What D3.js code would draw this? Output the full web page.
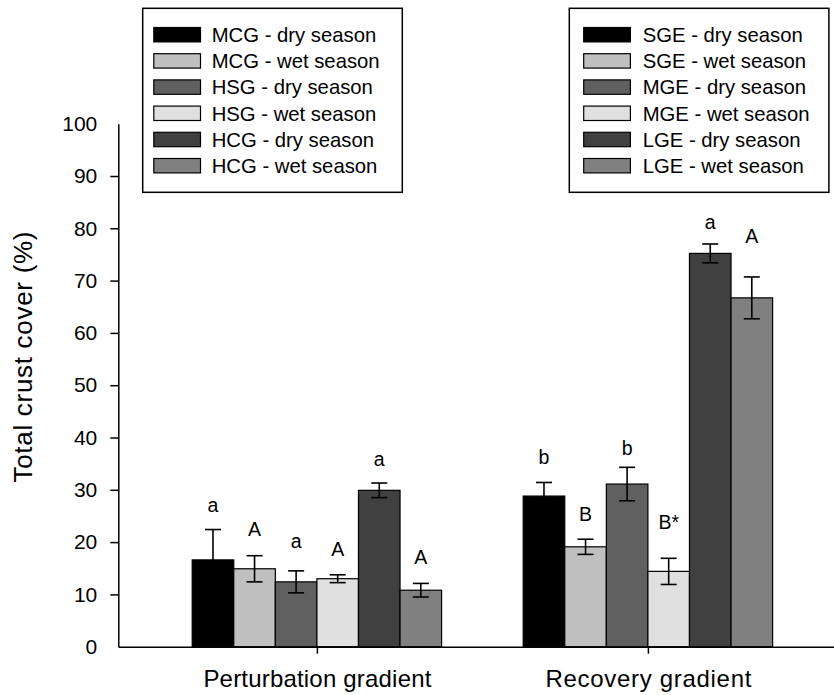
<!DOCTYPE html>
<html>
<head>
<meta charset="utf-8">
<script src="https://cdn.jsdelivr.net/npm/d3@7"></script>
<style>
  body { margin: 0; background: #fff; }
  svg { display: block; font-family: "Liberation Sans", Arial, sans-serif; }
</style>
</head>
<body>
<svg id="chart" width="834" height="695"></svg>
<script>
// data
const gradients = ["Perturbation gradient", "Recovery gradient"];
const perturbationSeries = ["MCG - dry season", "MCG - wet season", "HSG - dry season", "HSG - wet season", "HCG - dry season", "HCG - wet season"];
const recoverySeries = ["SGE - dry season", "SGE - wet season", "MGE - dry season", "MGE - wet season", "LGE - dry season", "LGE - wet season"];
const perturbationMeans = [16.6, 14.9, 12.4, 13.0, 29.9, 10.8];
const perturbationErrors = [5.8, 2.5, 2.1, 0.75, 1.4, 1.3];
const recoveryMeans = [28.8, 19.1, 31.1, 14.4, 75.2, 66.7];
const recoveryErrors = [2.6, 1.45, 3.2, 2.5, 1.8, 4.0];
const perturbationLetters = ["a", "A", "a", "A", "a", "A"];
const recoveryLetters = ["b", "B", "b", "B*", "a", "A"];
// height (in % units) where each letter sits
const perturbationLetterLevel = [25.7, 21.2, 18.8, 17.3, 34.6, 15.8];
const recoveryLetterLevel = [34.9, 24.0, 36.7, 22.5, 79.8, 77.2];
const yTicks = [0, 10, 20, 30, 40, 50, 60, 70, 80, 90, 100];

const fills = ["#000000", "#c0c0c0", "#606060", "#e0e0e0", "#404040", "#808080"];

const svg = d3.select("#chart");

const y = d3.scaleLinear().domain([0, 100]).range([646.7, 123.7]);
const x = d3.scaleLinear().domain([-0.6, 1.6]).range([118.3, 846.5]);
const inner = d3.scaleBand().domain(d3.range(6)).range([-124.7, 124.7]);

const groups = [
  { means: perturbationMeans, errs: perturbationErrors, letters: perturbationLetters, levels: perturbationLetterLevel },
  { means: recoveryMeans, errs: recoveryErrors, letters: recoveryLetters, levels: recoveryLetterLevel }
];

const bars = [];
groups.forEach((g, gi) => {
  g.means.forEach((m, i) => {
    bars.push({ gi, i, mean: m, err: g.errs[i], letter: g.letters[i], level: g.levels[i] });
  });
});

// bars
svg.selectAll(".bar")
  .data(bars)
  .enter()
  .append("rect")
  .attr("class", "bar")
  .attr("x", (d) => x(d.gi) + inner(d.i))
  .attr("y", (d) => y(d.mean))
  .attr("width", inner.bandwidth())
  .attr("height", (d) => y(0) - y(d.mean))
  .attr("fill", (d) => fills[d.i])
  .attr("stroke", "#000")
  .attr("stroke-width", 1.2);

// error bars
const cx = (d) => x(d.gi) + inner(d.i) + inner.bandwidth() / 2;
const err = svg.append("g").attr("stroke", "#000").attr("stroke-width", 1.6);
err.selectAll(".ev")
  .data(bars)
  .enter()
  .append("line")
  .attr("x1", cx).attr("x2", cx)
  .attr("y1", (d) => y(d.mean - d.err))
  .attr("y2", (d) => y(d.mean + d.err));
[1, -1].forEach((s) => {
  err.selectAll(".cap" + s)
    .data(bars)
    .enter()
    .append("line")
    .attr("x1", (d) => cx(d) - 8).attr("x2", (d) => cx(d) + 8)
    .attr("y1", (d) => y(d.mean + s * d.err))
    .attr("y2", (d) => y(d.mean + s * d.err));
});

// letters
svg.selectAll(".letter")
  .data(bars)
  .enter()
  .append("text")
  .attr("class", "letter")
  .attr("x", cx)
  .attr("y", (d) => y(d.level))
  .attr("text-anchor", "middle")
  .attr("font-size", 19.5)
  .text((d) => d.letter);

// axes
const yAxis = svg.append("g")
  .attr("transform", `translate(${x.range()[0]},0)`)
  .call(d3.axisLeft(y).tickValues(yTicks).tickSize(8).tickSizeOuter(0).tickPadding(13));
yAxis.selectAll(".tick line").filter((d) => d === 0 || d === 100).remove();
yAxis.selectAll("text").attr("font-size", 21).attr("fill", "#000").attr("font-family", null);
yAxis.select(".domain").attr("stroke-width", 1.5);
yAxis.selectAll(".tick line").attr("stroke-width", 1.5);

const xAxis = svg.append("g")
  .attr("transform", `translate(0,${y(0)})`)
  .call(d3.axisBottom(x).tickValues([0, 1]).tickFormat((d) => gradients[d]).tickSize(7).tickSizeOuter(0).tickPadding(16));
xAxis.selectAll("text")
  .attr("font-size", 24)
  .attr("fill", "#000")
  .attr("font-family", null)
  .attr("textLength", (d) => (d === 0 ? 228 : 206))
  .attr("lengthAdjust", "spacing");
xAxis.select(".domain").attr("stroke-width", 1.5);
xAxis.selectAll(".tick line").attr("stroke-width", 1.5);
svg.selectAll(".tick line, .domain").attr("stroke", "#000");

svg.append("text")
  .attr("transform", "translate(32,357) rotate(-90)")
  .attr("text-anchor", "middle")
  .attr("font-size", 26)
  .attr("textLength", 251)
  .attr("lengthAdjust", "spacing")
  .text("Total crust cover (%)");

// legends
function drawLegend(labels, left, swatchLeft, textLeft) {
  const lg = svg.append("g");
  lg.append("rect")
    .attr("x", left).attr("y", 8.3)
    .attr("width", 259.6).attr("height", 184)
    .attr("fill", "#fff").attr("stroke", "#000").attr("stroke-width", 1.5);
  const rows = lg.selectAll(".row").data(labels).enter().append("g")
    .attr("transform", (d, i) => `translate(0,${34.7 + 26.2 * i})`);
  rows.append("rect")
    .attr("x", swatchLeft).attr("y", -7.2)
    .attr("width", 46.7).attr("height", 14.4)
    .attr("fill", (d, i) => fills[i])
    .attr("stroke", "#000").attr("stroke-width", 1.2);
  rows.append("text")
    .attr("x", textLeft).attr("y", 7.3)
    .attr("font-size", 20.3)
    .text((d) => d);
}
drawLegend(perturbationSeries, 142.7, 153.8, 211.7);
drawLegend(recoverySeries, 569.3, 583.7, 642.7);
</script>
</body>
</html>
